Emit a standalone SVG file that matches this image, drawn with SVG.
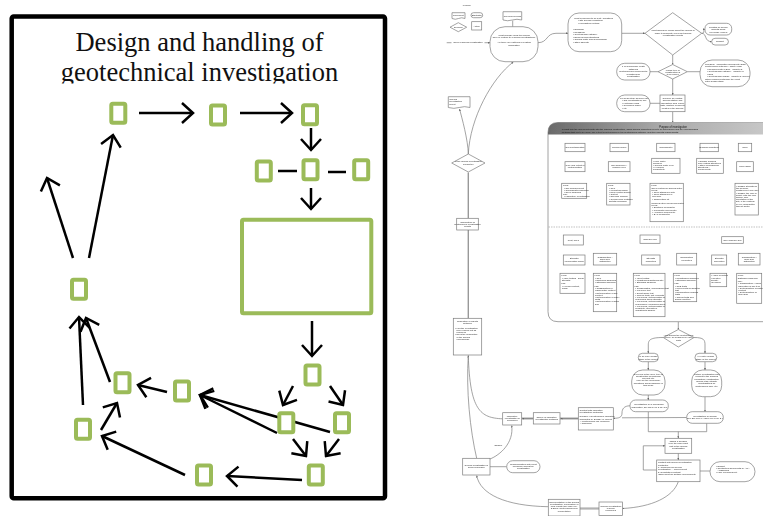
<svg xmlns="http://www.w3.org/2000/svg" width="763" height="516" viewBox="0 0 763 516">
  <defs>
    <style>
      .frame { fill: #fff; stroke: #000; stroke-width: 4.5; }
      .title { font-family: "Liberation Serif", "Times New Roman", serif; font-size: 26.5px; fill: #111; text-anchor: middle; }
      .g { fill: #fff; stroke: #9bbb59; stroke-width: 4; }
      .ar { fill: none; stroke: #000; stroke-width: 2.5; marker-end: url(#big); }
      .ln { fill: none; stroke: #000; stroke-width: 2.5; }
      .n { fill: #fff; stroke: #7c7c7c; stroke-width: 0.7; }
      .c { fill: none; stroke: #7c7c7c; stroke-width: 0.7; }
      .ca { fill: none; stroke: #7c7c7c; stroke-width: 0.7; marker-end: url(#sm); }
      .thick { fill: none; stroke: #999; stroke-width: 1.4; }
      .t { font-family: "Liberation Sans", Arial, sans-serif; font-size: 2.3px; fill: #2a2a2a; }
      .tm { font-family: "Liberation Sans", Arial, sans-serif; font-size: 2.3px; fill: #2a2a2a; text-anchor: middle; }
      .hd { font-family: "Liberation Sans", Arial, sans-serif; font-size: 2.6px; fill: #111; text-anchor: middle; }
    </style>
    <marker id="big" viewBox="-13 -12 15 24" refX="0" refY="0" markerUnits="userSpaceOnUse" markerWidth="15" markerHeight="24" orient="auto">
      <path d="M-11,-10 L0,0 L-11,10" fill="none" stroke="#000" stroke-width="2.5"/>
    </marker>
    <marker id="sm" viewBox="0 0 6 6" refX="6" refY="3" markerUnits="userSpaceOnUse" markerWidth="2" markerHeight="2" orient="auto">
      <path d="M0,0 L6,3 L0,6 z" fill="#666"/>
    </marker>
    <linearGradient id="band" x1="0" y1="0" x2="1" y2="0">
      <stop offset="0" stop-color="#6a6a6a"/>
      <stop offset="0.5" stop-color="#a8a8a8"/>
      <stop offset="1" stop-color="#c9c9c9"/>
    </linearGradient>
    <clipPath id="titleClip">
      <rect x="14" y="18" width="369" height="65.5"/>
    </clipPath>
    <filter id="soft" x="-2%" y="-2%" width="104%" height="104%">
      <feGaussianBlur stdDeviation="0.3"/>
    </filter>
  </defs>

  <rect width="763" height="516" fill="#fff"/>

  <!-- ===== Overview panel ===== -->
  <g id="overview">
    <rect class="frame" x="11.7" y="16.5" width="373.3" height="481.8" rx="2"/>
    <g clip-path="url(#titleClip)">
      <text class="title" x="199.5" y="50.7">Design and handling of</text>
      <text class="title" x="199.5" y="81">geotechnical investigation</text>
    </g>
  </g>

  <g id="ov-connectors">
    <line class="ar" x1="139" y1="113" x2="193" y2="113"/>
    <line class="ar" x1="240" y1="113" x2="292" y2="113"/>
    <line class="ar" x1="311" y1="128" x2="311" y2="150"/>
    <line class="ln" x1="278" y1="171" x2="297" y2="171"/>
    <line class="ln" x1="328" y1="172" x2="346" y2="172"/>
    <line class="ar" x1="311" y1="188" x2="311" y2="209"/>
    <line class="ar" x1="312" y1="321" x2="312" y2="356"/>
    <line class="ar" x1="293" y1="386" x2="283" y2="405"/>
    <line class="ar" x1="330" y1="386" x2="343" y2="405"/>
    <line class="ar" x1="293" y1="439" x2="306" y2="456"/>
    <line class="ar" x1="339" y1="439" x2="326" y2="456"/>
    <line class="ar" x1="330" y1="432" x2="200" y2="395"/>
    <line class="ar" x1="277" y1="433" x2="200" y2="395"/>
    <line class="ar" x1="167" y1="392" x2="138" y2="385"/>
    <line class="ar" x1="302" y1="480" x2="227" y2="476"/>
    <line class="ar" x1="185" y1="475" x2="102" y2="436"/>
    <line class="ar" x1="101" y1="430" x2="117" y2="403"/>
    <line class="ar" x1="83" y1="405" x2="79" y2="317"/>
    <line class="ar" x1="110" y1="382" x2="86" y2="318"/>
    <line class="ar" x1="73" y1="258" x2="47" y2="178"/>
    <line class="ar" x1="89" y1="258" x2="113" y2="135"/>
  </g>

  <g id="ov-a"><rect class="g" x="111.3" y="103.8" width="14" height="19" rx="1.5"/></g>
  <g id="ov-b"><rect class="g" x="211" y="105.5" width="14" height="19" rx="1.5"/></g>
  <g id="ov-c"><rect class="g" x="303" y="105.2" width="14" height="19" rx="1.5"/></g>
  <g id="ov-d"><rect class="g" x="303.5" y="160.2" width="14" height="19" rx="1.5"/></g>
  <g id="ov-e"><rect class="g" x="256.8" y="161.5" width="14" height="19" rx="1.5"/></g>
  <g id="ov-f"><rect class="g" x="354.2" y="160.2" width="14" height="19" rx="1.5"/></g>
  <g id="ov-main"><rect class="g" x="242" y="219.7" width="129.3" height="93.6" rx="1.5"/></g>
  <g id="ov-g"><rect class="g" x="305.5" y="365.5" width="14" height="19" rx="1.5"/></g>
  <g id="ov-h"><rect class="g" x="279.3" y="413.2" width="14" height="19" rx="1.5"/></g>
  <g id="ov-i"><rect class="g" x="335" y="413.2" width="14" height="19" rx="1.5"/></g>
  <g id="ov-j"><rect class="g" x="308.8" y="465.5" width="14" height="19" rx="1.5"/></g>
  <g id="ov-k"><rect class="g" x="197" y="465.5" width="14" height="19" rx="1.5"/></g>
  <g id="ov-l"><rect class="g" x="175" y="381.5" width="14" height="19" rx="1.5"/></g>
  <g id="ov-m"><rect class="g" x="115.5" y="373.2" width="14" height="19" rx="1.5"/></g>
  <g id="ov-n"><rect class="g" x="76" y="419.8" width="14" height="19" rx="1.5"/></g>
  <g id="ov-o"><rect class="g" x="72" y="279.8" width="14" height="19" rx="1.5"/></g>

  <!-- ===== Detailed flowchart (soft rendering) ===== -->
  <g id="flowchart" filter="url(#soft)">
  <g id="legend">
    <text class="tm" x="466.7" y="6">Legend</text>
    <path class="n" d="M452,12.7 H465 V18.5 Q461.7,17 458.5,18.5 T452,18.5 Z"/>
    <text class="tm" x="458.5" y="16.4">Document</text>
    <rect class="n" x="471" y="12.7" width="11.7" height="5" rx="2.5"/>
    <text class="tm" x="476.8" y="15.9">Start/Stop</text>
    <polygon class="n" points="450,27.2 458.3,22.7 466.7,27.2 458.3,31.7"/>
    <text class="tm" x="458.3" y="28">Decision</text>
    <rect class="n" x="471.7" y="21.7" width="10" height="8.3"/>
    <text class="tm" x="476.7" y="26.6">Action</text>
  </g>

  <g id="fc-connectors">
    <line class="c" x1="446.7" y1="42.7" x2="451.5" y2="42.7"/>
    <line class="ca" x1="484.5" y1="42.7" x2="490" y2="42.7"/>
    <text class="tm" x="468" y="43.4">Need of ground investigation</text>
    <line class="c" x1="512.7" y1="20.7" x2="512.7" y2="26.7"/>
    <path class="ca" d="M538,42.7 C548,42.7 546,33.3 556,33.3 L568,33.3"/>
    <line class="ca" x1="621.7" y1="33.3" x2="645" y2="33.3"/>
    <path class="ca" d="M701.7,33.3 C706,33.3 702,29.2 705,29.2"/>
    <path class="ca" d="M701.7,33.3 C707,33.3 704,41.7 711.7,41.7"/>
    <line class="ca" x1="672.7" y1="55" x2="672.7" y2="64.5"/>
    <line class="c" x1="650" y1="71.7" x2="658" y2="71.7"/>
    <line class="c" x1="687.3" y1="71.7" x2="700" y2="71.7"/>
    <line class="ca" x1="672.7" y1="79" x2="672.7" y2="95"/>
    <line class="c" x1="650" y1="103.3" x2="660" y2="103.3"/>
    <line class="ca" x1="672.7" y1="111.7" x2="672.7" y2="122.5"/>

    <!-- connectors inside purpose panel -->
    <line class="c" x1="575" y1="151.7" x2="575" y2="161.7"/>
    <line class="c" x1="575" y1="171.7" x2="575" y2="183.3"/>
    <line class="c" x1="619.2" y1="151.7" x2="619.2" y2="161.7"/>
    <line class="c" x1="619.2" y1="171.7" x2="619.2" y2="183.3"/>
    <line class="c" x1="665.8" y1="151.7" x2="665.8" y2="158.3"/>
    <line class="c" x1="665.8" y1="173.3" x2="665.8" y2="183.3"/>
    <line class="c" x1="709.2" y1="151.7" x2="709.2" y2="158.3"/>
    <line class="c" x1="745" y1="151.7" x2="745" y2="161.7"/>
    <line class="c" x1="745" y1="171.7" x2="745" y2="183.3"/>
    <line class="c" x1="573.3" y1="245" x2="573.3" y2="255"/>
    <line class="c" x1="573.3" y1="265" x2="573.3" y2="273.3"/>
    <path class="c" d="M650,243.3 V249 M605,253.3 V249 H686.7 V253.3 M650.8,249 V255"/>
    <line class="c" x1="605" y1="265" x2="605" y2="273.3"/>
    <line class="c" x1="650.8" y1="265" x2="650.8" y2="273.3"/>
    <line class="c" x1="686.7" y1="265" x2="686.7" y2="273.3"/>
    <path class="c" d="M732.5,243.3 V249 M719.2,255 V249 H749.2 V253.3"/>
    <line class="c" x1="719.2" y1="265" x2="719.2" y2="273.3"/>
    <line class="c" x1="749.2" y1="265" x2="749.2" y2="273.3"/>

    <line class="ca" x1="678.3" y1="321.7" x2="678.3" y2="329.5"/>
    <path class="ca" d="M663.3,337.5 C650,337.5 648.3,340 648.3,345 V353.3"/>
    <path class="ca" d="M694,337.5 C704,337.5 705,340 705,345 V353.3"/>
    <line class="ca" x1="648.3" y1="361.7" x2="648.3" y2="370"/>
    <line class="ca" x1="648.3" y1="395" x2="648.3" y2="400"/>
    <line class="ca" x1="705" y1="361.7" x2="705" y2="370"/>
    <line class="ca" x1="705" y1="396.7" x2="705" y2="411.7"/>
    <path class="ca" d="M630,405.8 C624,405.8 622,409 622,413 C622,417.5 619,418.3 613.3,418.3"/>
    <line class="c" x1="686.7" y1="417.5" x2="622" y2="417.8"/>
    <path class="c" d="M648.3,411.7 V431.7 H706.7 V423.3"/>
    <line class="ca" x1="678.3" y1="431.7" x2="678.3" y2="438.3"/>
    <line class="ca" x1="678.3" y1="453.3" x2="678.3" y2="460"/>
    <path class="ca" d="M656.7,470 H643.3 V445.8 H665"/>
    <line class="c" x1="700" y1="471" x2="710" y2="471"/>
    <path class="ca" d="M678.3,481.7 C673,497 652,507 622.5,508.5"/>
    <path class="c" d="M580,508 H599 M580,509 H599"/>
    <path class="ca" d="M548.3,506.7 C505,506 480,494 476.7,475.5"/>
    <line class="c" x1="490" y1="466.7" x2="506.7" y2="466.7"/>
    <path class="ca" d="M490,459 C500,455 514,443 511.7,425.5"/>
    <text class="tm" x="498.3" y="445.6">Sample</text>
    <path class="c" d="M560,418 H578.3 M560,419 H578.3"/>
    <path class="ca" d="M578.3,418.5 H560.5"/>
    <path class="c" d="M521.7,418 H533.3 M521.7,419 H533.3"/>
    <path class="ca" d="M533.3,418.5 H522.2"/>
    <path class="ca" d="M502.7,418.8 C480,418 470,410 468.3,355.5"/>
    <path class="c" d="M476.7,458.3 C470,430 466,390 468.3,355.5"/>
    <line class="thick" x1="468.3" y1="318.3" x2="468.3" y2="230"/>
    <line class="thick" x1="468.3" y1="218.3" x2="468.3" y2="172.5"/>
    <path class="ca" d="M468.3,154 C468,140 462,118 459.5,109"/>
    <path class="ca" d="M468.3,154 C470,118 492,78 513.3,62"/>
  </g>

  <g id="fc-start">
    <rect class="n" x="490" y="26.7" width="48" height="35" rx="15"/>
    <text class="tm" x="514" y="35.5">What purpose does the ground</text>
    <text class="tm" x="514" y="38">have in relation to a ground investigation?</text>
    <text class="tm" x="514" y="43">Are there any patterns of existing</text>
    <text class="tm" x="514" y="45.5">information</text>
  </g>
  <g id="fc-records">
    <path class="n" d="M503,11.7 H521.7 V20 Q517,18.5 512.3,20 T503,20 Z"/>
    <text class="tm" x="512.3" y="16.5">Previous records</text>
  </g>
  <g id="fc-planned">
    <rect class="n" x="568" y="13" width="53.7" height="38.7" rx="11"/>
    <text class="t" x="574" y="18.5">What is planned to be built / questions</text>
    <text class="t" x="578" y="21">• Site specific conditions</text>
    <text class="t" x="578" y="23.5">• Foundation method</text>
    <text class="t" x="573" y="30">• Buildings</text>
    <text class="t" x="573" y="32.5">• Roads/rail</text>
    <text class="t" x="573" y="35">• Geotechnical category</text>
    <text class="t" x="573" y="37.5">• Below ground structures</text>
    <text class="t" x="573" y="40">• Ground water and surroundings</text>
    <text class="t" x="573" y="42.5">• Other aspects</text>
  </g>
  <g id="fc-know">
    <polygon class="n" points="645,33.3 672.7,12.7 701.7,33.3 672.7,55"/>
    <text class="tm" x="673" y="31">What should be known about the ground in</text>
    <text class="tm" x="673" y="33.5">order to formulate a relevant ground</text>
    <text class="tm" x="673" y="36">investigation result?</text>
  </g>
  <g id="fc-relating">
    <rect class="n" x="705" y="23.3" width="26.7" height="11.7" rx="5"/>
    <text class="tm" x="718.3" y="27.5">Relating all known</text>
    <text class="tm" x="718.3" y="30">aspects being</text>
    <text class="tm" x="718.3" y="32.5">previously placed</text>
  </g>
  <g id="fc-budget1">
    <rect class="n" x="711.7" y="38.3" width="16.7" height="6.7" rx="3.3"/>
    <text class="tm" x="720" y="42.3">Budget</text>
  </g>
  <g id="fc-type">
    <polygon class="n" points="658,71.7 672.7,64.5 687.3,71.7 672.7,79"/>
    <text class="tm" x="672.7" y="70.5">Which type of</text>
    <text class="tm" x="672.7" y="72.8">construction is</text>
    <text class="tm" x="672.7" y="75">to be done?</text>
  </g>
  <g id="fc-noknow">
    <rect class="n" x="616.7" y="63.3" width="33.3" height="16.7" rx="8"/>
    <text class="tm" x="633.3" y="67.3">If no knowledge exists</text>
    <text class="tm" x="633.3" y="69.8">obtaining</text>
    <text class="tm" x="633.3" y="72.3">geotechnical/environmental</text>
    <text class="tm" x="633.3" y="74.8">conditions for</text>
    <text class="tm" x="633.3" y="77.3">investigation</text>
  </g>
  <g id="fc-eks">
    <rect class="n" x="700" y="60" width="50" height="26.7" rx="12"/>
    <text class="t" x="705" y="64.5">Geo/EKS - application documents (EC7)</text>
    <text class="t" x="705" y="67">Geotechnical category / safety class</text>
    <text class="t" x="707" y="69.5">• Requirements in EC7 - Chapter 2</text>
    <text class="t" x="707" y="72">• Geotechnical category - Chapter 3</text>
    <text class="t" x="707" y="74.5">• EKS</text>
    <text class="t" x="707" y="77">• Geotechnical design - Chapter 3 (TRVR)</text>
    <text class="t" x="705" y="79.5">Other requirements from the client</text>
    <text class="t" x="705" y="82">Later design stage</text>
  </g>
  <g id="fc-compile">
    <rect class="n" x="660" y="95" width="25" height="16.7"/>
    <text class="tm" x="672.5" y="98.5">Compile all existing</text>
    <text class="tm" x="672.5" y="101">documentation and</text>
    <text class="tm" x="672.5" y="103.5">information from earlier</text>
    <text class="tm" x="672.5" y="106">data, location of objects</text>
    <text class="tm" x="672.5" y="108.5">located in the ground</text>
  </g>
  <g id="fc-desk">
    <rect class="n" x="616.7" y="95" width="33.3" height="16.7" rx="8"/>
    <text class="t" x="620" y="98.5">For desk study sources use:</text>
    <text class="t" x="622" y="101">• Old investigations, soil</text>
    <text class="t" x="622" y="103.5">• Historical maps</text>
    <text class="t" x="622" y="106">• Geological maps</text>
    <text class="t" x="622" y="108.5">• etc.</text>
  </g>

  <!-- purpose of investigation panel -->
  <g id="fc-purpose">
    <path d="M770,122.5 H558 Q548,122.5 548,132.5 V311.7 Q548,321.7 558,321.7 H770 Z" fill="#fff" stroke="#8a8a8a" stroke-width="0.8"/>
    <path d="M770,122.5 H558 Q548,122.5 548,132.5 V134.5 H770 Z" fill="url(#band)"/>
    <text class="hd" x="673" y="127.5">Purpose of investigation</text>
    <text class="t" x="561.7" y="130.4" style="fill:#111">In what way the ground interacts with the planned construction, which ground properties need to be determined and the corresponding</text>
    <text class="t" x="561.7" y="132.6" style="fill:#111">methods that are to be used. The extent is determined by the geotechnical category and the project's requirements.</text>
    <line x1="548.5" y1="227" x2="763" y2="227" stroke="#999" stroke-width="0.6" stroke-dasharray="1.5,1"/>
  </g>

  <g id="p-soilcont">
    <rect class="n" x="565" y="143.3" width="20" height="8.4"/>
    <text class="tm" x="575" y="148.3">Soil contamination</text>
    <rect class="n" x="565" y="161.7" width="20" height="10"/>
    <text class="tm" x="575" y="165.8">Type and extent of</text>
    <text class="tm" x="575" y="168.3">contamination</text>
    <rect class="n" x="561.7" y="183.3" width="25" height="15"/>
    <text class="t" x="563" y="186.3">Field:</text>
    <text class="t" x="564" y="188.5">• Soil measurement</text>
    <text class="t" x="564" y="190.7">• Groundwater sampling</text>
    <text class="t" x="564" y="192.9">• Sieve sampling</text>
    <text class="t" x="563" y="195.1">Lab:</text>
    <text class="t" x="564" y="197.3">• Laboratory investigation</text>
  </g>
  <g id="p-profile">
    <rect class="n" x="610" y="143.3" width="18.3" height="8.4"/>
    <text class="tm" x="619.2" y="148.3">Ground profile</text>
    <rect class="n" x="608.3" y="161.7" width="21.7" height="10"/>
    <text class="tm" x="619.2" y="165.8">Soil sequence /</text>
    <text class="tm" x="619.2" y="168.3">bedrock level</text>
    <rect class="n" x="606.7" y="183.3" width="23.3" height="21.7"/>
    <text class="t" x="608" y="186.3">Field:</text>
    <text class="t" x="609" y="188.5">• CPT</text>
    <text class="t" x="609" y="190.7">• Weight sounding</text>
    <text class="t" x="609" y="192.9">• Rock control drilling</text>
    <text class="t" x="609" y="195.1">• Test pit</text>
    <text class="t" x="609" y="197.3">• Soil/rock probing</text>
    <text class="t" x="609" y="199.5">• Geophysical methods</text>
    <text class="t" x="609" y="201.7">  JB total sounding</text>
  </g>
  <g id="p-water">
    <rect class="n" x="656.7" y="143.3" width="18.3" height="8.4"/>
    <text class="tm" x="665.8" y="148.3">Groundwater</text>
    <rect class="n" x="651.7" y="158.3" width="28.3" height="15"/>
    <text class="t" x="653" y="161.5">• Pore water</text>
    <text class="t" x="653" y="163.7">  pressure</text>
    <text class="t" x="653" y="165.9">• Ground water level</text>
    <text class="t" x="653" y="168.1">• Hydraulic</text>
    <text class="t" x="653" y="170.3">  conductivity</text>
    <rect class="n" x="650" y="183.3" width="33.3" height="38.4"/>
    <text class="t" x="651.3" y="186.3">Field:</text>
    <text class="t" x="651.3" y="188.5">Open system for ground water</text>
    <text class="t" x="651.3" y="190.7">levels:</text>
    <text class="t" x="652.3" y="192.9">• Open standpipe with</text>
    <text class="t" x="652.3" y="195.1">• Open standpipe in</text>
    <text class="t" x="652.3" y="197.3">  borehole</text>
    <text class="t" x="652.3" y="199.5">• Observation pit</text>
    <text class="t" x="651.3" y="203.9">Closed system for ground water</text>
    <text class="t" x="651.3" y="206.1">levels:</text>
    <text class="t" x="652.3" y="208.3">• Electrical piezometer</text>
    <text class="t" x="652.3" y="210.5">• Pneumatic piezometer</text>
    <text class="t" x="652.3" y="212.7">• Hydraulic piezometer</text>
    <text class="t" x="652.3" y="214.9">• BAT piezometer</text>
  </g>
  <g id="p-building">
    <rect class="n" x="700" y="143.3" width="18.3" height="8.4"/>
    <text class="tm" x="709.2" y="148.3">Building conditions</text>
    <rect class="n" x="696.7" y="158.3" width="26.6" height="15"/>
    <text class="t" x="698" y="161.5">• Surface building</text>
    <text class="t" x="698" y="163.7">  and existing structures</text>
    <text class="t" x="698" y="165.9">• Other underground</text>
    <text class="t" x="698" y="168.1">  structures /</text>
    <text class="t" x="698" y="170.3">  components</text>
  </g>
  <g id="p-rock">
    <rect class="n" x="738.3" y="143.3" width="13.4" height="8.4"/>
    <text class="tm" x="745" y="148.3">Rock</text>
    <rect class="n" x="736.7" y="161.7" width="16.6" height="10"/>
    <text class="tm" x="745" y="167.3">Rock mass</text>
    <rect class="n" x="735" y="183.3" width="23.3" height="31.7"/>
    <text class="t" x="736" y="187">• Classify strength of</text>
    <text class="t" x="736" y="189.2">  the bedrock,</text>
    <text class="t" x="736" y="191.4">  weathered or fine size</text>
    <text class="t" x="736" y="193.6">• Classify the rock in</text>
    <text class="t" x="736" y="195.8">  quality with the core</text>
    <text class="t" x="736" y="198">  drilling, core</text>
    <text class="t" x="736" y="200.2">  orientation at the</text>
    <text class="t" x="736" y="202.4">  site, if the material</text>
    <text class="t" x="736" y="204.6">  is very good/better</text>
    <text class="t" x="736" y="206.8">  than at depth</text>
  </g>
  <g id="p-peat">
    <rect class="n" x="563.3" y="235" width="20" height="10"/>
    <text class="tm" x="573.3" y="240.8">Peat, clays</text>
    <rect class="n" x="563.3" y="255" width="21.7" height="10"/>
    <text class="tm" x="574.2" y="259.1">Strength</text>
    <text class="tm" x="574.2" y="261.6">/deformation props</text>
    <rect class="n" x="560" y="273.3" width="25" height="20"/>
    <text class="t" x="561.3" y="276.3">Field:</text>
    <text class="t" x="562" y="278.5">• Vane testing - shear</text>
    <text class="t" x="562" y="280.7">  strength</text>
    <text class="t" x="561.3" y="284.4">Lab:</text>
    <text class="t" x="562" y="286.6">• Humus content,</text>
    <text class="t" x="562" y="288.8">  mass</text>
  </g>
  <g id="p-cohesive">
    <rect class="n" x="640" y="235" width="20" height="8.3"/>
    <text class="tm" x="650" y="239.9">Cohesive soil</text>
    <rect class="n" x="593.3" y="253.3" width="23.4" height="11.7"/>
    <text class="tm" x="605" y="257.5">Classification /</text>
    <text class="tm" x="605" y="259.8">grain size</text>
    <text class="tm" x="605" y="262.1">distribution</text>
    <rect class="n" x="641.7" y="255" width="18.3" height="10"/>
    <text class="tm" x="650.8" y="259.3">Strength</text>
    <text class="tm" x="650.8" y="261.8">properties</text>
    <rect class="n" x="676.7" y="253.3" width="20" height="11.7"/>
    <text class="tm" x="686.7" y="258.2">Deformation</text>
    <text class="tm" x="686.7" y="260.7">properties</text>
    <rect class="n" x="593.3" y="273.3" width="23.4" height="38.4"/>
    <text class="t" x="594.5" y="276.3">Field:</text>
    <text class="t" x="595" y="278.5">• CPT</text>
    <text class="t" x="595" y="280.7">• Disturbed sampling</text>
    <text class="t" x="595" y="282.9">• Standard sampling</text>
    <text class="t" x="594.5" y="287">Lab:</text>
    <text class="t" x="595" y="289.2">• Classification by</text>
    <text class="t" x="595" y="291.4">  visual/water content</text>
    <text class="t" x="595" y="293.6">• Determination of fine</text>
    <text class="t" x="595" y="295.8">  content</text>
    <text class="t" x="595" y="298">• Determination of index</text>
    <text class="t" x="595" y="300.2">  limits</text>
    <text class="t" x="595" y="302.4">• Determination of grain</text>
    <text class="t" x="595" y="304.6">  size</text>
    <rect class="n" x="633.3" y="273.3" width="31.7" height="43.4"/>
    <text class="t" x="634.5" y="276.3">Field:</text>
    <text class="t" x="635.3" y="278.5">• Vane testing</text>
    <text class="t" x="635.3" y="280.7">• Undisturbed/disturbed site</text>
    <text class="t" x="635.3" y="282.9">• Standard sampling</text>
    <text class="t" x="634.5" y="287">Lab:</text>
    <text class="t" x="635.3" y="289.2">• Consolidated, compression test</text>
    <text class="t" x="635.3" y="291.4">• Fall cone test</text>
    <text class="t" x="635.3" y="293.6">• Direct shear test</text>
    <text class="t" x="635.3" y="295.8">• Triaxial tests, silty deposits</text>
    <text class="t" x="635.3" y="298">• Fall cones, determination of</text>
    <text class="t" x="635.3" y="300.2">  remoulded shear strength</text>
    <text class="t" x="635.3" y="302.4">• Fall cones, determination of</text>
    <text class="t" x="635.3" y="304.6">  remoulding / undrained shear</text>
    <text class="t" x="635.3" y="306.8">• Fall cones, determination of</text>
    <text class="t" x="635.3" y="309">  sensitivity, strength of</text>
    <text class="t" x="635.3" y="311.2">  undisturbed sample</text>
    <rect class="n" x="673.3" y="273.3" width="23.4" height="28.4"/>
    <text class="t" x="674.5" y="276.3">Field:</text>
    <text class="t" x="675" y="278.5">• Undisturbed sampling</text>
    <text class="t" x="675" y="280.7">• Standard sampling</text>
    <text class="t" x="674.5" y="284.4">Lab:</text>
    <text class="t" x="675" y="286.6">• CRS tests</text>
    <text class="t" x="675" y="288.8">• Incremental oedometer</text>
    <text class="t" x="675" y="291">  test</text>
    <text class="t" x="675" y="293.2">• Deformation modulus</text>
    <text class="t" x="675" y="295.4">  tests</text>
    <text class="t" x="675" y="297.6">• Triaxial tests and</text>
    <text class="t" x="675" y="299.8">  similar pipettes</text>
  </g>
  <g id="p-noncohesive">
    <rect class="n" x="721.7" y="236.7" width="21.6" height="6.6"/>
    <text class="tm" x="732.5" y="240.7">Non-cohesive soil</text>
    <rect class="n" x="711.7" y="255" width="15" height="10"/>
    <text class="tm" x="719.2" y="259.3">Strength</text>
    <text class="tm" x="719.2" y="261.8">properties</text>
    <rect class="n" x="738.3" y="253.3" width="21.7" height="11.7"/>
    <text class="tm" x="749.2" y="257.5">Classification /</text>
    <text class="tm" x="749.2" y="259.8">grain size</text>
    <text class="tm" x="749.2" y="262.1">distribution</text>
    <rect class="n" x="710" y="273.3" width="16.7" height="13.4"/>
    <text class="t" x="711" y="276.3">• Angle of friction</text>
    <text class="t" x="711" y="278.5">• Relative</text>
    <text class="t" x="711" y="280.7">  density</text>
    <text class="t" x="711" y="282.9">  (dynamic)</text>
    <rect class="n" x="736.7" y="273.3" width="25" height="30"/>
    <text class="t" x="737.8" y="276.3">Field:</text>
    <text class="t" x="737.8" y="278.5">Disturbed sampling</text>
    <text class="t" x="737.8" y="282.2">Lab:</text>
    <text class="t" x="738.3" y="284.4">• Classification / visual</text>
    <text class="t" x="738.3" y="286.6">  inspection of soil type</text>
    <text class="t" x="738.3" y="288.8">• Determination of water</text>
    <text class="t" x="738.3" y="291">  content</text>
    <text class="t" x="738.3" y="293.2">• Determination of</text>
    <text class="t" x="738.3" y="295.4">  grain size</text>
  </g>

  <g id="fc-design">
    <polygon class="n" points="663.3,337.5 678.3,329.5 694,337.5 678.3,347"/>
    <text class="tm" x="678.5" y="336">How should the geotechnical</text>
    <text class="tm" x="678.5" y="338.3">survey be designed in each</text>
    <text class="tm" x="678.5" y="340.6">part?</text>
  </g>
  <g id="fc-early">
    <rect class="n" x="638.3" y="353.3" width="20" height="8.4" rx="4"/>
    <text class="tm" x="648.3" y="357.1">In an early design</text>
    <text class="tm" x="648.3" y="359.6">stage of the project</text>
  </g>
  <g id="fc-later">
    <rect class="n" x="695" y="353.3" width="21.7" height="8.4" rx="4"/>
    <text class="tm" x="705.8" y="357.1">In a later design</text>
    <text class="tm" x="705.8" y="359.6">stage of the project</text>
  </g>
  <g id="fc-overview">
    <rect class="n" x="631.7" y="370" width="33.3" height="25" rx="11"/>
    <text class="tm" x="648.3" y="374.5">Overview of the area, type of</text>
    <text class="tm" x="648.3" y="376.8">construction of buildings</text>
    <text class="tm" x="648.3" y="379.1">relevant etc.</text>
    <text class="tm" x="648.3" y="381.4">How are the preliminary</text>
    <text class="tm" x="648.3" y="383.7">conditions and geographic in</text>
    <text class="tm" x="648.3" y="386">this area?</text>
  </g>
  <g id="fc-further">
    <rect class="n" x="691.7" y="370" width="30" height="26.7" rx="11"/>
    <text class="tm" x="706.7" y="375">Further investigation with</text>
    <text class="tm" x="706.7" y="377.3">respect to the building</text>
    <text class="tm" x="706.7" y="379.6">foundation, construction</text>
    <text class="tm" x="706.7" y="381.9">ground load, stability</text>
    <text class="tm" x="706.7" y="384.2">Investigations for</text>
    <text class="tm" x="706.7" y="386.5">geotechnical calc. etc.</text>
  </g>
  <g id="fc-prelim">
    <rect class="n" x="630" y="400" width="38.3" height="11.7" rx="5.5"/>
    <text class="tm" x="649.2" y="405">Investigation for a preliminary</text>
    <text class="tm" x="649.2" y="407.5">description, see EN 1997-2 ch. 2.3</text>
  </g>
  <g id="fc-designinv">
    <rect class="n" x="686.7" y="411.7" width="36.6" height="11.6" rx="5.5"/>
    <text class="tm" x="705" y="416.8">Investigation for design</text>
    <text class="tm" x="705" y="419.3">See EN 1997-1 / EN 1997-2 ch. 2.4</text>
  </g>
  <g id="fc-labcontact">
    <rect class="n" x="578.3" y="407.7" width="35" height="22.3"/>
    <text class="t" x="579.5" y="410.8">Contact with laboratory</text>
    <text class="t" x="579.5" y="413">investigation contractor</text>
    <text class="t" x="579.5" y="417.4">Normally a geotechnical laboratory</text>
    <text class="t" x="579.5" y="419.6">accredited by SWEDAC. Select:</text>
    <text class="t" x="580.5" y="421.8">• Geotechnical lab. suppliers</text>
    <text class="t" x="580.5" y="424">• Sampling</text>
  </g>
  <g id="fc-choice">
    <rect class="n" x="533.3" y="412.7" width="26.7" height="11.3"/>
    <text class="tm" x="546.7" y="417.8">Choice of laboratory</text>
    <text class="tm" x="546.7" y="420.3">investigation methods</text>
  </g>
  <g id="fc-lab">
    <rect class="n" x="502.7" y="412.7" width="19" height="12.3"/>
    <text class="tm" x="512.2" y="416.8">Laboratory</text>
    <text class="tm" x="512.2" y="419.1">investigation is</text>
    <text class="tm" x="512.2" y="421.4">performed</text>
  </g>
  <g id="fc-evaluation">
    <rect class="n" x="453.3" y="318.3" width="28.4" height="36.7"/>
    <text class="tm" x="467.5" y="322">Evaluation of results</text>
    <text class="tm" x="467.5" y="324.3">obtained</text>
    <text class="t" x="455" y="328.5">• Has the investigation</text>
    <text class="t" x="456.5" y="330.8">been carried out as</text>
    <text class="t" x="456.5" y="333.1">planned?</text>
    <text class="t" x="455" y="335.4">• Does the description</text>
    <text class="t" x="456.5" y="337.7">of the ground</text>
    <text class="t" x="456.5" y="340">correspond?</text>
  </g>
  <g id="fc-compilation">
    <rect class="n" x="456.7" y="218.3" width="21.6" height="11.7"/>
    <text class="tm" x="467.5" y="222.5">Compilation of</text>
    <text class="tm" x="467.5" y="224.8">geotechnical investigation</text>
    <text class="tm" x="467.5" y="227.1">results</text>
  </g>
  <g id="fc-complete">
    <polygon class="n" points="451.7,163 468.3,154 485,163 468.3,172"/>
    <text class="tm" x="468.3" y="162.4">Is the ground investigation</text>
    <text class="tm" x="468.3" y="164.8">complete?</text>
  </g>
  <g id="fc-report">
    <path class="n" d="M448.3,96.7 H470 V107.5 Q464.5,105.8 459.2,107.5 T448.3,107.5 Z"/>
    <text class="t" x="449.3" y="100">Ground</text>
    <text class="t" x="449.3" y="102.3">investigation</text>
    <text class="t" x="449.3" y="104.6">report</text>
  </g>
  <g id="fc-gi">
    <rect class="n" x="462.7" y="458.3" width="27.3" height="16.7"/>
    <text class="tm" x="476.3" y="465.8">Ground investigation is</text>
    <text class="tm" x="476.3" y="468.3">being performed</text>
  </g>
  <g id="fc-comm">
    <rect class="n" x="506.7" y="460.7" width="33.3" height="12" rx="6"/>
    <text class="tm" x="523.3" y="464.6">Communication with client</text>
    <text class="tm" x="523.3" y="466.9">personnel during the</text>
    <text class="tm" x="523.3" y="469.2">investigation</text>
  </g>
  <g id="fc-take">
    <rect class="n" x="665" y="438.3" width="26.7" height="15"/>
    <text class="tm" x="678.3" y="442">Taking a decision</text>
    <text class="tm" x="678.3" y="444.3">over the final result</text>
    <text class="tm" x="678.3" y="446.6">part of the ground</text>
    <text class="tm" x="678.3" y="448.9">investigation</text>
  </g>
  <g id="fc-contractor">
    <rect class="n" x="656.7" y="460" width="43.3" height="21.7"/>
    <text class="t" x="658" y="463.3">Contact with ground investigation</text>
    <text class="t" x="658" y="465.6">contractor</text>
    <text class="t" x="658" y="467.9">1.   Tendering for ground</text>
    <text class="t" x="658" y="470.2">investigation ... procurement</text>
    <text class="t" x="658" y="472.5">2.   Negotiated contract</text>
    <text class="t" x="658" y="474.8">(agreement for suitable procurement)</text>
  </g>
  <g id="fc-budget2">
    <rect class="n" x="710" y="461.7" width="45" height="20" rx="10"/>
    <text class="t" x="716" y="466.5">• Budget</text>
    <text class="t" x="716" y="468.8">• Contractual documents by AMA</text>
    <text class="t" x="717.5" y="471.1">Anläggning</text>
    <text class="t" x="716" y="473.4">• LOU (procurement)</text>
  </g>
  <g id="fc-performed">
    <rect class="n" x="599" y="502" width="23.5" height="13.5"/>
    <text class="tm" x="610.7" y="506.5">Ground investigation</text>
    <text class="tm" x="610.7" y="508.8">is being</text>
    <text class="tm" x="610.7" y="511.1">performed</text>
  </g>
  <g id="fc-doc">
    <rect class="n" x="548.3" y="499.3" width="31.7" height="16.7"/>
    <text class="tm" x="564.2" y="502.5">Documentation of the ground</text>
    <text class="tm" x="564.2" y="504.8">investigation, compilation of</text>
    <text class="tm" x="564.2" y="507.1">field results (see SGF rep.</text>
    <text class="tm" x="564.2" y="509.4">2:2013) Geotechnical field</text>
    <text class="tm" x="564.2" y="511.7">presentation</text>
  </g>
  </g>
</svg>
